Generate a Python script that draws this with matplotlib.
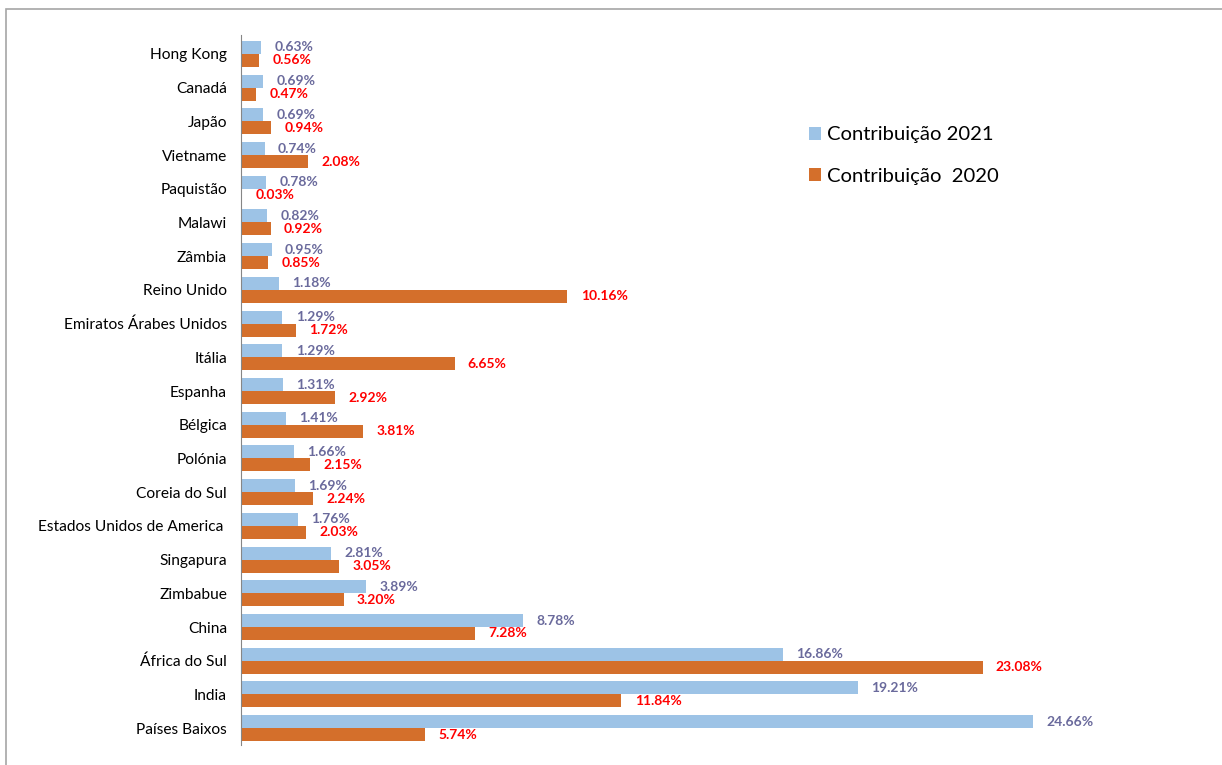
import numpy as np
import matplotlib.pyplot as plt
from matplotlib.patches import Rectangle

# data, top to bottom as shown
countries = ["Hong Kong", "Canadá", "Japão", "Vietname", "Paquistão", "Malawi",
             "Zâmbia", "Reino Unido", "Emiratos Árabes Unidos", "Itália", "Espanha",
             "Bélgica", "Polónia", "Coreia do Sul", "Estados Unidos de America ",
             "Singapura", "Zimbabue", "China", "África do Sul", "India", "Países Baixos"]
contrib_2021 = [0.63, 0.69, 0.69, 0.74, 0.78, 0.82, 0.95, 1.18, 1.29, 1.29, 1.31,
                1.41, 1.66, 1.69, 1.76, 2.81, 3.89, 8.78, 16.86, 19.21, 24.66]
contrib_2020 = [0.56, 0.47, 0.94, 2.08, 0.03, 0.92, 0.85, 10.16, 1.72, 6.65, 2.92,
                3.81, 2.15, 2.24, 2.03, 3.05, 3.20, 7.28, 23.08, 11.84, 5.74]

blue = "#9DC3E6"
orange = "#D46F2B"
font = ["Lato", "DejaVu Sans"]
plt.rcParams['font.family'] = font

fig = plt.figure(figsize=(12.22, 7.65), dpi=100)
# thin grey frame like the spreadsheet chart area
fig.patches.append(Rectangle((6 / 1222, -0.1), 1.2, 1 - 9 / 765 + 0.1, transform=fig.transFigure,
                             fill=False, edgecolor="#A6A6A6", linewidth=1.2))

ax = fig.add_axes([241 / 1222, 20 / 765, 1 - 241 / 1222 - 0.014, (745 - 35) / 765])
y = np.arange(len(countries))
h = 0.385
ax.barh(y - h / 2, contrib_2021, height=h, color=blue, label="Contribuição 2021")
ax.barh(y + h / 2, contrib_2020, height=h, color=orange, label="Contribuição  2020")

for yi, v in zip(y, contrib_2021):
    ax.annotate(f"{v:.2f}%", (v, yi - h / 2), xytext=(9.5, 0), textcoords="offset points",
                va="center", ha="left", fontsize=10, fontweight="bold", color="#6A6A9C")
for yi, v in zip(y, contrib_2020):
    ax.annotate(f"{v:.2f}%", (v, yi + h / 2), xytext=(9.5, 0), textcoords="offset points",
                va="center", ha="left", fontsize=10, fontweight="bold", color="#FF0000")

ax.set_yticks(y)
ax.set_yticklabels(countries, fontsize=11.2)
ax.tick_params(axis="y", length=0, pad=10)
ax.set_xticks([])
ax.set_xlim(0, 30)
ax.set_ylim(len(countries) - 0.5, -0.56)
for s in ["top", "right", "bottom"]:
    ax.spines[s].set_visible(False)
ax.spines["left"].set_color("#868686")

ax.legend(loc="upper left", bbox_to_anchor=(0.57, 0.897), frameon=False, fontsize=14.6,
          handlelength=0.6, handleheight=0.6, handletextpad=0.3, labelspacing=1.2)

fig.savefig("out.png", dpi=100)
